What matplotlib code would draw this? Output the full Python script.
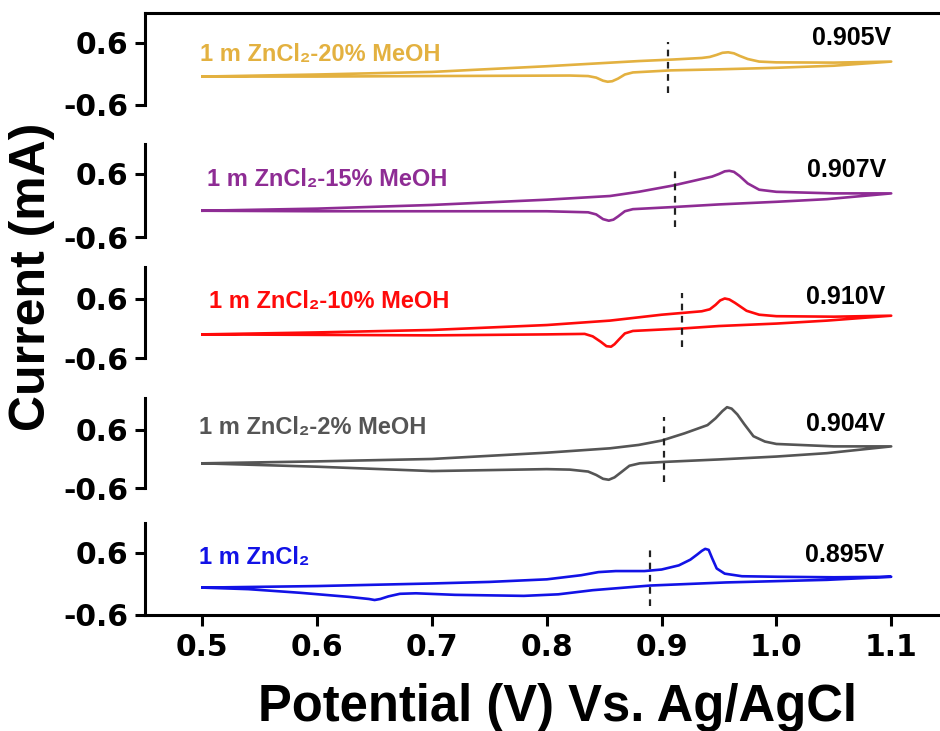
import matplotlib
matplotlib.use("Agg")
from matplotlib import pyplot

pyplot.rcParams["font.family"] = ["Liberation Sans", "DejaVu Sans"]
pyplot.rcParams["font.weight"] = "bold"

# panels from top to bottom
labels = ["1 m ZnCl₂-20% MeOH",
          "1 m ZnCl₂-15% MeOH",
          "1 m ZnCl₂-10% MeOH",
          "1 m ZnCl₂-2% MeOH",
          "1 m ZnCl₂"]
e_labels = ["0.905V", "0.907V", "0.910V", "0.904V", "0.895V"]
colors = ["#E3B140", "#8E2C94", "#FF0A0A", "#555555", "#1212E6"]

# dashed marker position (V) and its span (mA)
dash_x = [0.906, 0.912, 0.918, 0.902, 0.890]
dash_y = [(-0.37, 0.62), (-0.41, 0.71), (-0.38, 0.72), (-0.48, 0.87), (-0.43, 0.70)]

# forward scan 0.5 -> 1.1 V
up_v = [
    [0.50, 0.60, 0.70, 0.80, 0.88, 0.91, 0.935, 0.942, 0.948, 0.953, 0.958, 0.963, 0.968, 0.975, 0.985, 1.00, 1.05, 1.10],
    [0.50, 0.60, 0.70, 0.80, 0.855, 0.88, 0.91, 0.93, 0.944, 0.95, 0.955, 0.959, 0.963, 0.968, 0.975, 0.985, 1.00, 1.05, 1.10],
    [0.50, 0.60, 0.70, 0.80, 0.855, 0.90, 0.935, 0.942, 0.947, 0.951, 0.955, 0.959, 0.964, 0.974, 0.985, 1.00, 1.05, 1.10],
    [0.50, 0.60, 0.70, 0.80, 0.855, 0.88, 0.90, 0.92, 0.94, 0.947, 0.953, 0.957, 0.961, 0.966, 0.972, 0.98, 0.99, 1.00, 1.05, 1.10],
    [0.50, 0.60, 0.70, 0.75, 0.80, 0.83, 0.845, 0.86, 0.885, 0.90, 0.915, 0.925, 0.931, 0.935, 0.938, 0.941, 0.944, 0.948, 0.955, 0.97, 1.00, 1.05, 1.10],
]
up_i = [
    [-0.05, -0.01, 0.04, 0.15, 0.25, 0.28, 0.31, 0.33, 0.37, 0.41, 0.42, 0.40, 0.35, 0.29, 0.24, 0.225, 0.22, 0.24],
    [-0.10, -0.06, 0.01, 0.11, 0.18, 0.26, 0.38, 0.48, 0.55, 0.60, 0.65, 0.66, 0.64, 0.56, 0.42, 0.30, 0.26, 0.23, 0.23],
    [-0.12, -0.08, -0.03, 0.07, 0.16, 0.28, 0.35, 0.39, 0.48, 0.57, 0.61, 0.59, 0.52, 0.36, 0.28, 0.25, 0.24, 0.26],
    [-0.09, -0.05, 0.00, 0.13, 0.22, 0.29, 0.38, 0.53, 0.70, 0.84, 0.99, 1.07, 1.04, 0.92, 0.72, 0.47, 0.36, 0.31, 0.26, 0.26],
    [-0.07, -0.04, 0.01, 0.04, 0.09, 0.17, 0.23, 0.25, 0.25, 0.28, 0.36, 0.47, 0.57, 0.64, 0.68, 0.66, 0.50, 0.30, 0.20, 0.15, 0.14, 0.13, 0.14],
]
# reverse scan 1.1 -> 0.5 V
down_v = [
    [1.10, 1.05, 1.00, 0.95, 0.908, 0.875, 0.868, 0.862, 0.857, 0.853, 0.849, 0.843, 0.836, 0.82, 0.70, 0.60, 0.50],
    [1.10, 1.044, 1.00, 0.95, 0.91, 0.875, 0.868, 0.862, 0.858, 0.854, 0.849, 0.843, 0.836, 0.80, 0.70, 0.60, 0.50],
    [1.10, 1.044, 1.00, 0.95, 0.918, 0.875, 0.868, 0.863, 0.859, 0.856, 0.852, 0.847, 0.84, 0.833, 0.80, 0.70, 0.60, 0.50],
    [1.10, 1.044, 1.00, 0.95, 0.903, 0.881, 0.872, 0.865, 0.859, 0.854, 0.849, 0.843, 0.836, 0.82, 0.80, 0.75, 0.70, 0.60, 0.50],
    [1.10, 1.044, 0.956, 0.89, 0.84, 0.81, 0.78, 0.72, 0.686, 0.672, 0.662, 0.655, 0.65, 0.645, 0.628, 0.585, 0.54, 0.50],
]
down_i = [
    [0.24, 0.16, 0.12, 0.09, 0.07, 0.03, -0.01, -0.09, -0.14, -0.15, -0.13, -0.07, -0.04, -0.03, -0.04, -0.05, -0.05],
    [0.23, 0.12, 0.07, 0.02, -0.03, -0.07, -0.11, -0.21, -0.27, -0.29, -0.26, -0.17, -0.13, -0.11, -0.11, -0.11, -0.10],
    [0.26, 0.16, 0.10, 0.05, 0.00, -0.05, -0.10, -0.22, -0.32, -0.37, -0.36, -0.27, -0.16, -0.11, -0.12, -0.14, -0.13, -0.12],
    [0.26, 0.12, 0.05, -0.01, -0.06, -0.09, -0.14, -0.27, -0.38, -0.43, -0.41, -0.33, -0.26, -0.22, -0.21, -0.23, -0.25, -0.16, -0.09],
    [0.14, 0.08, 0.03, -0.03, -0.12, -0.20, -0.23, -0.21, -0.18, -0.19, -0.24, -0.29, -0.31, -0.29, -0.25, -0.17, -0.10, -0.07],
]

# label anchors
label_pos = [(0.498, 0.37), (0.504, 0.50), (0.506, 0.54), (0.497, 0.66), (0.497, 0.52)]
e_pos = [(1.100, 0.70), (1.096, 0.68), (1.095, 0.64), (1.095, 0.73), (1.094, 0.56)]

# layout in pixels (top, bottom) of each panel
W, H = 940, 731
panel_px = [(13, 105), (144, 237), (267, 358), (398, 488), (523, 615)]
ytop = [1.18, 1.17, 1.25, 1.26, 1.18]
LEFT = 145

fig = pyplot.figure(figsize=(W / 100, H / 100), dpi=100)
XMIN, XMAX = 0.45, 1.142
width = (XMAX - XMIN) * 1148 / W
tick_font = dict(family="DejaVu Sans", weight="bold", size=21.5)

for k in range(5):
    top, bot = panel_px[k]
    ax = fig.add_axes([LEFT / W, 1 - bot / H, width, (bot - top) / H])
    ax.plot(up_v[k] + down_v[k], up_i[k] + down_i[k], color=colors[k], lw=1.9,
            solid_joinstyle="round")
    ax.plot([dash_x[k], dash_x[k]], dash_y[k], color="#222222", lw=1.6,
            linestyle=(0, (3, 2.5)))
    ax.text(*label_pos[k], labels[k], color=colors[k], fontsize=17,
            fontweight="bold", ha="left", va="center")
    ax.text(*e_pos[k], e_labels[k], color="black", fontsize=18,
            fontweight="bold", ha="right", va="center")

    ax.set_xlim(XMIN, XMAX)
    ax.set_ylim(-0.6, ytop[k])
    ax.set_yticks([-0.6, 0.6])
    ax.set_yticklabels(["-0.6", "0.6"], fontdict=tick_font)
    ax.spines["right"].set_visible(False)
    ax.spines["top"].set_visible(k == 0)
    ax.spines["bottom"].set_visible(k == 4)
    for s in ax.spines.values():
        s.set_linewidth(2.2)
    ax.tick_params(axis="y", direction="out", length=7, width=2.2, pad=5)
    if k == 4:
        ax.set_xticks([0.5, 0.6, 0.7, 0.8, 0.9, 1.0, 1.1])
        ax.set_xticklabels(["0.5", "0.6", "0.7", "0.8", "0.9", "1.0", "1.1"],
                           fontdict=tick_font)
        ax.tick_params(axis="x", direction="out", length=8, width=2.2, pad=5)
    else:
        ax.set_xticks([])

fig.text(558 / W, 1 - 708 / H, "Potential (V) Vs. Ag/AgCl", fontsize=36.5,
         fontweight="bold", ha="center", va="center")
fig.text(32 / W, 1 - 277 / H, "Current (mA)", fontsize=36, fontweight="bold",
         rotation=90, ha="center", va="center")

fig.savefig("out.png", dpi=100)
